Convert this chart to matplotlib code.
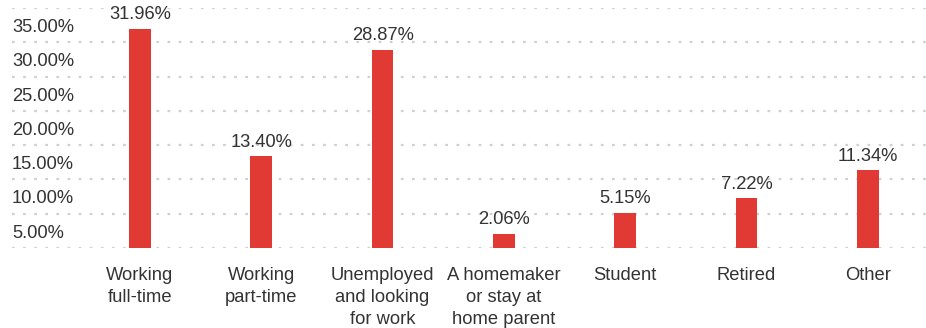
import matplotlib
matplotlib.use("Agg")
import matplotlib.pyplot as plt
from matplotlib.transforms import blended_transform_factory

# ── Datos ─────────────────────────────────────────────────────────────────────
categories = ["Working\nfull-time", "Working\npart-time", "Unemployed\nand looking\nfor work",
              "A homemaker\nor stay at\nhome parent", "Student", "Retired", "Other"]
values = [31.96, 13.40, 28.87, 2.06, 5.15, 7.22, 11.34]
grid_levels = [0, 5, 10, 15, 20, 25, 30, 35]
tick_labels = ["5.00%", "10.00%", "15.00%", "20.00%", "25.00%", "30.00%", "35.00%"]

BAR_COLOR = "#e13a35"
TEXT_COLOR = "#333333"
FONT = "Liberation Sans"
FS = 13.2

fig = plt.figure(figsize=(9.26, 3.28), dpi=100)
ax = fig.add_axes([12 / 926, 80 / 328, 914 / 926, 240 / 328])

xs = list(range(len(values)))
ax.bar(xs, values, width=0.18, color=BAR_COLOR, zorder=3)
ax.set_xlim(-1.055, 6.48)
ax.set_ylim(0, 35)

# líneas guía punteadas
for lvl in grid_levels:
    ax.axhline(lvl, color="#d0d0d0", linestyle=(0, (1.2, 3.8)), linewidth=1.6, zorder=1)

for s in ax.spines.values():
    s.set_visible(False)
ax.set_xticks([])
ax.set_yticks([])

# etiquetas del eje y, alineadas a la izquierda entre las líneas
trans_y = blended_transform_factory(ax.transAxes, ax.transData)
for lvl, lab in zip(grid_levels[1:], tick_labels):
    ax.text(0.0, lvl - 2.85, lab, transform=trans_y, ha="left", va="center",
            fontsize=FS, family=FONT, color=TEXT_COLOR)

# valores sobre las barras
for x, v in zip(xs, values):
    ax.annotate(f"{v:.2f}%", (x, v), xytext=(0, 4), textcoords="offset points",
                ha="center", va="bottom", fontsize=FS, family=FONT, color=TEXT_COLOR)

# categorías debajo
trans_x = blended_transform_factory(ax.transData, ax.transAxes)
for x, cat in zip(xs, categories):
    ax.text(x, -0.078, cat, transform=trans_x, ha="center", va="top",
            fontsize=FS, family=FONT, color=TEXT_COLOR, linespacing=1.38)

fig.savefig("out.png", dpi=100, facecolor="white")
